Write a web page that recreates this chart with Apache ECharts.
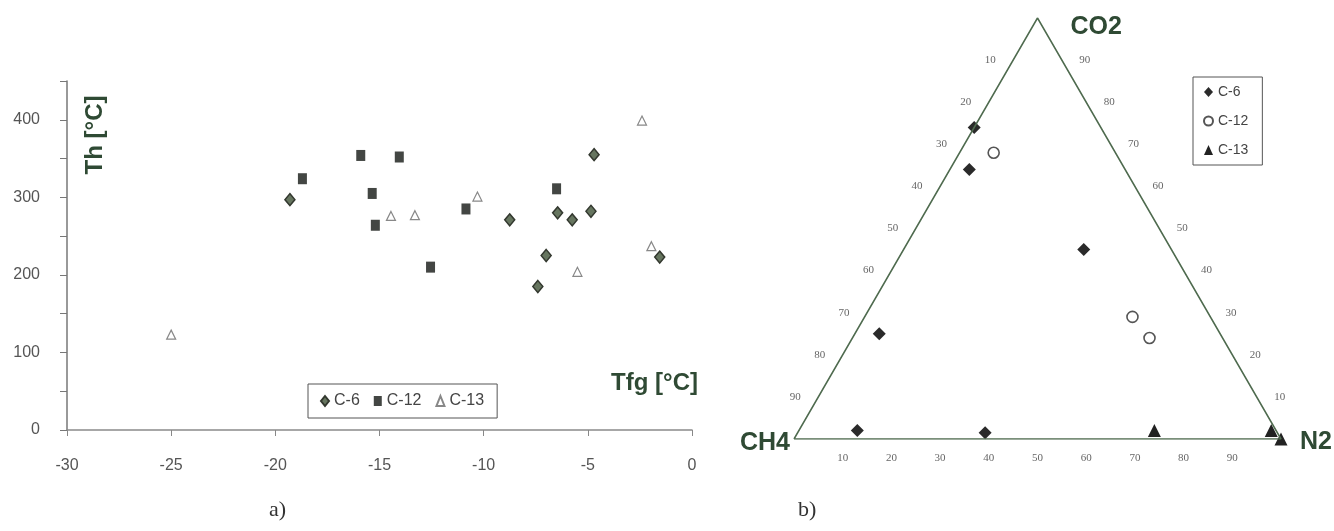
<!DOCTYPE html>
<html>
<head>
<meta charset="utf-8">
<script src="https://cdn.jsdelivr.net/npm/echarts@6/dist/echarts.min.js"></script>
<style>
  html, body { margin: 0; padding: 0; background: #fff; }
  #chart { width: 1334px; height: 531px; }
</style>
</head>
<body>
<div id="chart"></div>
<script>
// a) Tfg [°C] vs Th [°C]
const c6Tfg = [-19.3, -8.75, -7.0, -7.4, -6.45, -5.75, -4.85, -4.7, -1.55];
const c6Th = [297, 271, 225, 185, 280, 271, 282, 355, 223];
const c12Tfg = [-18.7, -15.9, -15.35, -15.2, -14.05, -12.55, -10.85, -6.5];
const c12Th = [324, 354, 305, 264, 352, 210, 285, 311];
const c13Tfg = [-25, -14.45, -13.3, -10.3, -5.5, -1.95, -2.4];
const c13Th = [123, 276, 277, 301, 204, 237, 399];

// b) ternary composition in % (CH4 = 100 - CO2 - N2)
const c6Co2 = [74, 64, 45, 25, 2, 1.5];
const c6N2 = [0, 4, 37, 5, 12, 38.5];
const c12Co2 = [68, 29, 24];
const c12N2 = [7, 55, 61];
const c13Co2 = [2, 2, 0];
const c13N2 = [73, 97, 100];

const ternTicks = [10, 20, 30, 40, 50, 60, 70, 80, 90];
const vertexNames = ['CH4', 'N2', 'CO2'];

const H = Math.sqrt(3) / 2;
// composition -> plane (base = N2 axis, height = CO2)
function tern(co2, n2) {
  return [n2 + co2 / 2, co2 * H];
}
function zip(xs, ys) {
  return xs.map((x, i) => [x, ys[i]]);
}
function ternPts(co2, n2) {
  return co2.map((c, i) => tern(c, n2[i]));
}

const green = '#2f4a34';
const chart = echarts.init(document.getElementById('chart'));

const outline = [tern(0, 0), tern(0, 100), tern(100, 0), tern(0, 0)];
const bottomTicks = ternTicks.map(v => ({ value: tern(0, v).concat(v) }));
const leftTicks = ternTicks.map(v => ({ value: tern(100 - v, 0).concat(v) }));   // CH4 %
const rightTicks = ternTicks.map(v => ({ value: tern(v, 100 - v).concat(v) }));  // CO2 %

const tickLabel = (off) => ({
  show: true, position: 'inside', offset: off,
  formatter: p => p.value[2],
  fontFamily: 'Liberation Serif', fontSize: 11, color: '#666'
});

const vertexFont = { fontFamily: 'Liberation Sans', fontWeight: 'bold', fontSize: 25, color: green };
const solid = { opacity: 1 };

chart.setOption({
  animation: false,
  title: [
    { text: 'a)', left: 264, top: 494, textStyle: { fontFamily: 'Liberation Serif', fontWeight: 'normal', fontSize: 22, color: '#333' } },
    { text: 'b)', left: 793, top: 494, textStyle: { fontFamily: 'Liberation Serif', fontWeight: 'normal', fontSize: 22, color: '#333' } }
  ],
  legend: [
    {
      data: ['C-6', 'C-12', 'C-13'],
      left: 308, top: 384, orient: 'horizontal',
      padding: [9, 13, 9, 12], itemGap: 14, itemWidth: 8, itemHeight: 10,
      borderColor: '#555', borderWidth: 1,
      textStyle: { fontFamily: 'Liberation Sans', fontSize: 16, color: '#444' }
    },
    {
      data: ['C-6 (b)', 'C-12 (b)', 'C-13 (b)'],
      formatter: n => n.replace(' (b)', ''),
      left: 1193, top: 77, orient: 'vertical',
      padding: [8, 14, 8, 10], itemGap: 15, itemWidth: 9, itemHeight: 10,
      borderColor: '#555', borderWidth: 1,
      textStyle: { fontFamily: 'Liberation Sans', fontSize: 14, color: '#444' }
    }
  ],
  grid: [
    { left: 67, right: 642, top: 81, bottom: 101 },
    { left: 794, width: 487, top: 18, height: 421 }
  ],
  xAxis: [
    {
      gridIndex: 0, type: 'value', min: -30, max: 0, interval: 5,
      axisLine: { onZero: false, lineStyle: { color: '#8a8a8a', width: 1.5 } },
      axisTick: { length: 6, lineStyle: { color: '#888' } },
      axisLabel: { margin: 28, fontFamily: 'Liberation Sans', fontSize: 16, color: '#555' },
      splitLine: { show: false }
    },
    { gridIndex: 1, type: 'value', min: 0, max: 100, show: false }
  ],
  yAxis: [
    {
      gridIndex: 0, type: 'value', min: 0, max: 450, interval: 50,
      axisLine: { show: true, onZero: false, lineStyle: { color: '#777', width: 1.5 } },
      axisTick: { show: true, length: 7, lineStyle: { color: '#777' } },
      axisLabel: { margin: 27, fontFamily: 'Liberation Sans', fontSize: 16, color: '#555',
        formatter: v => (v % 100 === 0 && v < 450 ? v : '') },
      splitLine: { show: false }
    },
    { gridIndex: 1, type: 'value', min: 0, max: 100 * H, show: false }
  ],
  graphic: [
    { type: 'text', x: 95, y: 135, rotation: Math.PI / 2,
      style: { text: 'Th [°C]', font: 'bold 24px "Liberation Sans"', fill: green, textAlign: 'center', textVerticalAlign: 'middle' } },
    { type: 'text', x: 698, y: 383,
      style: { text: 'Tfg [°C]', font: 'bold 24px "Liberation Sans"', fill: green, textAlign: 'right', textVerticalAlign: 'middle' } }
  ],
  series: [
    // a)
    { name: 'C-6', type: 'scatter', xAxisIndex: 0, yAxisIndex: 0, data: zip(c6Tfg, c6Th),
      symbol: 'diamond', symbolSize: [10, 12],
      itemStyle: { color: '#66755f', borderColor: '#33382f', borderWidth: 1.5, opacity: 1 } },
    { name: 'C-12', type: 'scatter', xAxisIndex: 0, yAxisIndex: 0, data: zip(c12Tfg, c12Th),
      symbol: 'rect', symbolSize: [9, 11],
      itemStyle: { color: '#434643', opacity: 1 } },
    { name: 'C-13', type: 'scatter', xAxisIndex: 0, yAxisIndex: 0, data: zip(c13Tfg, c13Th),
      symbol: 'triangle', symbolSize: [9, 9],
      itemStyle: { color: '#fff', borderColor: '#888', borderWidth: 1.2, opacity: 1 } },

    // b) triangle frame
    { type: 'line', xAxisIndex: 1, yAxisIndex: 1, data: outline, symbol: 'none', silent: true,
      lineStyle: { color: '#4f6b4f', width: 1.5 } },
    { type: 'scatter', xAxisIndex: 1, yAxisIndex: 1, data: bottomTicks, symbolSize: 0, silent: true,
      itemStyle: solid, label: tickLabel([0, 19]) },
    { type: 'scatter', xAxisIndex: 1, yAxisIndex: 1, data: leftTicks, symbolSize: 0, silent: true,
      itemStyle: solid, label: tickLabel([-23, 0]) },
    { type: 'scatter', xAxisIndex: 1, yAxisIndex: 1, data: rightTicks, symbolSize: 0, silent: true,
      itemStyle: solid, label: tickLabel([23, 0]) },
    { type: 'scatter', xAxisIndex: 1, yAxisIndex: 1, symbolSize: 0, silent: true, itemStyle: solid,
      data: [
        { name: vertexNames[0], value: tern(0, 0), label: { position: 'left', distance: 4, offset: [0, 4] } },
        { name: vertexNames[1], value: tern(0, 100), label: { position: 'right', distance: 19, offset: [0, 3] } },
        { name: vertexNames[2], value: tern(100, 0), label: { position: 'right', distance: 33, offset: [0, 9] } }
      ],
      label: Object.assign({ show: true, formatter: '{b}' }, vertexFont) },

    // b) data
    { name: 'C-6 (b)', type: 'scatter', xAxisIndex: 1, yAxisIndex: 1, data: ternPts(c6Co2, c6N2),
      symbol: 'diamond', symbolSize: [13, 13], itemStyle: { color: '#2a2a2a', opacity: 1 } },
    { name: 'C-12 (b)', type: 'scatter', xAxisIndex: 1, yAxisIndex: 1, data: ternPts(c12Co2, c12N2),
      symbol: 'circle', symbolSize: 11, itemStyle: { color: '#fff', borderColor: '#555', borderWidth: 1.6, opacity: 1 } },
    { name: 'C-13 (b)', type: 'scatter', xAxisIndex: 1, yAxisIndex: 1, data: ternPts(c13Co2, c13N2),
      symbol: 'triangle', symbolSize: [13, 13], itemStyle: { color: '#222', opacity: 1 } }
  ]
});
</script>
</body>
</html>
